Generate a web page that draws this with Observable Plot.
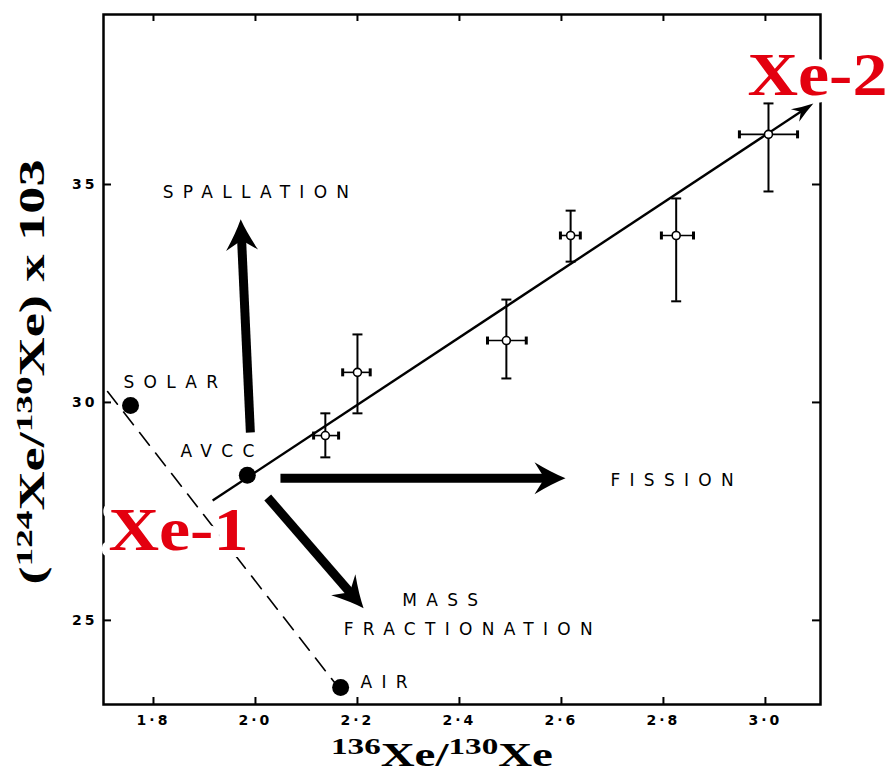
<!DOCTYPE html>
<html>
<head>
<meta charset="utf-8">
<script src="https://cdn.jsdelivr.net/npm/d3@7"></script>
<script src="https://cdn.jsdelivr.net/npm/@observablehq/plot@0.6"></script>
<style>
  html, body { margin: 0; padding: 0; background: #fff; }
</style>
</head>
<body>
<div id="chart"></div>
<script>
// ---- data ----
const xTicks = [1.8, 2.0, 2.2, 2.4, 2.6, 2.8, 3.0];
const yTicks = [25, 30, 35];

// reference compositions (filled dots)
const refNames = ["SOLAR", "AVCC", "AIR"];
const refX = [1.755, 1.984, 2.167];
const refY = [29.93, 28.33, 23.46];

// samples with error bars (open circles)
const sampleX = [2.137, 2.200, 2.492, 2.618, 2.825, 3.006];
const sampleY = [29.24, 30.69, 31.42, 33.83, 33.83, 36.15];
const sampleXlo = [2.114, 2.171, 2.455, 2.598, 2.796, 2.949];
const sampleXhi = [2.163, 2.225, 2.531, 2.637, 2.859, 3.063];
const sampleYlo = [28.74, 29.75, 30.55, 33.23, 32.32, 34.84];
const sampleYhi = [29.75, 31.56, 32.36, 34.40, 34.68, 36.86];

// correlation line AVCC -> Xe-2
const trendX = [1.916, 3.094];
const trendY = [27.75, 36.86];

// solar-air mixing line (dashed)
const mixX = [1.71, 2.18];
const mixY = [30.25, 23.20];

// process arrows: spallation, fission, mass fractionation
const procNames = ["SPALLATION", "FISSION", "MASS FRACTIONATION"];
const procX1 = [1.990, 2.049, 2.024];
const procY1 = [29.31, 28.26, 27.82];
const procX2 = [1.971, 2.608, 2.212];
const procY2 = [34.20, 28.26, 25.28];

// annotation labels
const labelNames = ["SPALLATION", "SOLAR", "AVCC", "FISSION", "MASS", "FRACTIONATION", "AIR"];
const labelX = [1.818, 1.741, 1.853, 2.696, 2.288, 2.173, 2.206];
const labelY = [34.82, 30.46, 28.88, 28.21, 25.46, 24.79, 23.58];

// end-member labels
const xeNames = ["Xe-1", "Xe-2"];
const xeX = [1.849, 3.102];
const xeY = [27.06, 37.50];

// ---- layout ----
const W = 890, H = 774, ML = 103, MR = 70, MT = 14, MB = 70;
const innerW = W - ML - MR, innerH = H - MT - MB, TL = 7;
const xDomain = [1.702, 3.108], yDomain = [23.07, 38.9];
const kx = innerW / (xDomain[1] - xDomain[0]);
const ky = innerH / (yDomain[1] - yDomain[0]);
const screenAngle = (d) => Math.atan2(-(d.y2 - d.y1) * ky, (d.x2 - d.x1) * kx) * 180 / Math.PI;

// ---- tables ----
const refs = refNames.map((n, i) => ({name: n, x: refX[i], y: refY[i]}));
const samples = sampleX.map((x, i) => ({x, y: sampleY[i], xlo: sampleXlo[i], xhi: sampleXhi[i], ylo: sampleYlo[i], yhi: sampleYhi[i]}));
const trend = [{x1: trendX[0], y1: trendY[0], x2: trendX[1], y2: trendY[1]}].map(d => ({...d, angle: screenAngle(d)}));
const mixing = mixX.map((x, i) => ({x, y: mixY[i]}));
const procs = procNames.map((n, i) => ({name: n, x1: procX1[i], y1: procY1[i], x2: procX2[i], y2: procY2[i]}))
  .map(d => ({...d, angle: screenAngle(d)}));
const labels = labelNames.map((n, i) => ({name: n, x: labelX[i], y: labelY[i]}));
const xes = xeNames.map((n, i) => ({name: n, x: xeX[i], y: xeY[i]}));

// custom symbols
const capH = {draw(ctx, size) { const r = Math.sqrt(size / Math.PI); ctx.moveTo(-r, 0); ctx.lineTo(r, 0); }};
const capV = {draw(ctx, size) { const r = Math.sqrt(size / Math.PI); ctx.moveTo(0, -r); ctx.lineTo(0, r); }};
// arrowhead pointing to +x, tip at origin
function headSymbol(len, half, notch) {
  return {draw(ctx) {
    ctx.moveTo(0, 0);
    ctx.quadraticCurveTo(-len * 0.45, -half * 0.35, -len, -half);
    ctx.lineTo(-notch, 0);
    ctx.lineTo(-len, half);
    ctx.quadraticCurveTo(-len * 0.45, half * 0.35, 0, 0);
    ctx.closePath();
  }};
}
const bigHead = headSymbol(31, 16, 21);
const smallHead = headSymbol(22, 7.5, 15);

const chart = Plot.plot({
  width: W, height: H,
  marginLeft: ML, marginRight: MR, marginTop: MT, marginBottom: MB,
  style: {background: "white", fontFamily: "DejaVu Sans", color: "black", overflow: "visible"},
  x: {domain: xDomain},
  y: {domain: yDomain},
  marks: [
    Plot.frame({stroke: "black", strokeWidth: 2.5}),
    // inward ticks on all sides
    Plot.tickX(xTicks, {x: d => d, insetTop: innerH - TL, stroke: "black", strokeWidth: 2}),
    Plot.tickX(xTicks, {x: d => d, insetBottom: innerH - TL, stroke: "black", strokeWidth: 2}),
    Plot.tickY(yTicks, {y: d => d, insetRight: innerW - TL - 1, stroke: "black", strokeWidth: 2}),
    Plot.tickY(yTicks, {y: d => d, insetLeft: innerW - TL - 1, stroke: "black", strokeWidth: 2}),
    Plot.axisX({ticks: xTicks, tickSize: 0, tickPadding: 11, fontSize: 14, fontWeight: "bold", fontFamily: "DejaVu Sans",
      tickFormat: d => d.toFixed(1).replace(".", "\u00b7"), label: null}),
    Plot.axisY({ticks: yTicks, tickSize: 0, tickPadding: 6, fontSize: 14, fontWeight: "bold", fontFamily: "DejaVu Sans",
      tickFormat: d => String(d), label: null}),
    // dashed solar-air line
    Plot.line(mixing, {x: "x", y: "y", stroke: "black", strokeWidth: 1.6, strokeDasharray: "16,10"}),
    // Xe-1 / Xe-2 labels with white halo
    Plot.text(xes, {x: "x", y: "y", text: "name", fill: "#e3000f", stroke: "white", strokeWidth: 14,
      fontFamily: "Liberation Serif", fontWeight: "bold", fontSize: 62, textAnchor: "middle"}),
    // correlation line with filled arrowhead
    Plot.arrow(trend, {x1: "x1", y1: "y1", x2: "x2", y2: "y2", stroke: "black", strokeWidth: 2.4,
      headLength: 0, insetEnd: 12, strokeLinecap: "butt"}),
    Plot.dot(trend, {x: "x2", y: "y2", symbol: smallHead, rotate: "angle", r: 5, fill: "black", stroke: "none"}),
    // process arrows (thick shafts + filled barbed heads)
    Plot.arrow(procs, {x1: "x1", y1: "y1", x2: "x2", y2: "y2", stroke: "black", strokeWidth: 9,
      headLength: 0, insetEnd: 20, strokeLinecap: "butt"}),
    Plot.dot(procs, {x: "x2", y: "y2", symbol: bigHead, rotate: "angle", r: 5, fill: "black", stroke: "none"}),
    // error bars
    Plot.ruleX(samples, {x: "x", y1: "ylo", y2: "yhi", stroke: "black", strokeWidth: 2}),
    Plot.ruleY(samples, {y: "y", x1: "xlo", x2: "xhi", stroke: "black", strokeWidth: 1.6}),
    Plot.dot(samples, {x: "x", y: "ylo", symbol: capH, r: 5, fill: "none", stroke: "black", strokeWidth: 2}),
    Plot.dot(samples, {x: "x", y: "yhi", symbol: capH, r: 5, fill: "none", stroke: "black", strokeWidth: 2}),
    Plot.dot(samples, {x: "xlo", y: "y", symbol: capV, r: 4, fill: "none", stroke: "black", strokeWidth: 3}),
    Plot.dot(samples, {x: "xhi", y: "y", symbol: capV, r: 4, fill: "none", stroke: "black", strokeWidth: 3}),
    Plot.dot(samples, {x: "x", y: "y", r: 4, fill: "white", stroke: "black", strokeWidth: 1.6}),
    // reference points
    Plot.dot(refs, {x: "x", y: "y", r: 8.5, fill: "black", stroke: "none"}),
    // annotation labels
    Plot.text(labels, {x: "x", y: "y", text: "name", textAnchor: "start", fontSize: 17,
      fontFamily: "DejaVu Sans", fill: "black"})
  ]
});

document.getElementById("chart").appendChild(chart);

// ---- typographic touches ----
const svg = d3.select(chart);
const labelSet = new Set(labelNames);
svg.selectAll("text").each(function() {
  const t = this.textContent;
  if (labelSet.has(t)) d3.select(this).attr("letter-spacing", "9.3px");
  if (t === "Xe-1" || t === "Xe-2") d3.select(this).attr("textLength", 140).attr("lengthAdjust", "spacingAndGlyphs");
});
svg.selectAll('g[aria-label="x-axis tick label"] text, g[aria-label="y-axis tick label"] text')
  .attr("letter-spacing", "3px");

// axis titles with superscripts
function sup(sel, txt, size) {
  sel.append("tspan").attr("font-size", size).attr("dy", -size * 0.5).text(txt);
}
const xl = svg.append("text")
  .attr("x", 442).attr("y", 766)
  .attr("text-anchor", "middle")
  .attr("font-family", "Liberation Serif").attr("font-weight", "bold").attr("font-size", 34)
  .attr("fill", "black")
  .attr("textLength", 222).attr("lengthAdjust", "spacingAndGlyphs");
sup(xl, "136", 24);
xl.append("tspan").attr("dy", 12).text("Xe/");
sup(xl, "130", 24);
xl.append("tspan").attr("dy", 12).text("Xe");

const yl = svg.append("text")
  .attr("transform", "translate(44,372) rotate(-90)")
  .attr("text-anchor", "middle")
  .attr("font-family", "Liberation Serif").attr("font-weight", "bold").attr("font-size", 35)
  .attr("fill", "black")
  .attr("textLength", 425).attr("lengthAdjust", "spacingAndGlyphs");
yl.append("tspan").text("(");
sup(yl, "124", 24);
yl.append("tspan").attr("dy", 12).text("Xe/");
sup(yl, "130", 24);
yl.append("tspan").attr("dy", 12).text("Xe) x 103");
</script>
</body>
</html>
